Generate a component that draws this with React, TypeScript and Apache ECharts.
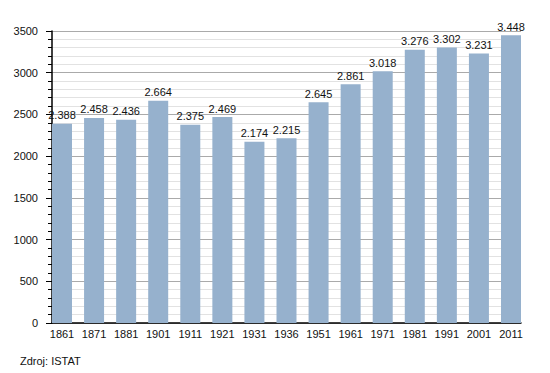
import React, { useEffect, useRef } from "react";
import * as echarts from "echarts";

const categories = ["1861", "1871", "1881", "1901", "1911", "1921", "1931", "1936", "1951", "1961", "1971", "1981", "1991", "2001", "2011"];
const population = [2388, 2458, 2436, 2664, 2375, 2469, 2174, 2215, 2645, 2861, 3018, 3276, 3302, 3231, 3448];
const sourceText = "Zdroj: ISTAT";

const fmt = (v: number) => String(v).replace(/\B(?=(\d{3})+(?!\d))/g, ".");

const FONT = "Liberation Sans, Arial, sans-serif";

export default function App() {
  const ref = useRef<HTMLDivElement>(null);
  useEffect(() => {
    document.body.style.margin = "0";
    const chart = echarts.init(ref.current!, null, { renderer: "svg" });
    chart.setOption({
      animation: false,
      backgroundColor: "#ffffff",
      textStyle: { fontFamily: FONT },
      grid: [
        { left: 52, right: 29, top: 31, bottom: 50 },
        { left: 62, right: 39, top: 31, bottom: 50 },
      ],
      xAxis: [
        {
          type: "value",
          gridIndex: 0,
          min: 0,
          max: 1,
          axisLine: { show: true, onZero: false, lineStyle: { color: "#000", width: 1.5 } },
          axisTick: { show: false },
          axisLabel: { show: false },
          splitLine: { show: false },
        },
        {
          type: "category",
          gridIndex: 1,
          data: categories,
          boundaryGap: false,
          axisLine: { show: false },
          axisTick: { show: false },
          axisLabel: { color: "#111", fontSize: 11, margin: 5, interval: 0 },
        },
      ],
      yAxis: [
        {
          type: "value",
          gridIndex: 0,
          min: 0,
          max: 3500,
          interval: 500,
          axisLine: { show: true, lineStyle: { color: "#000", width: 1.5 } },
          axisTick: { show: true, inside: false, length: 6, lineStyle: { color: "#000" } },
          minorTick: { show: true, splitNumber: 5, length: 4, lineStyle: { color: "#000" } },
          axisLabel: { color: "#111", fontSize: 11, margin: 14, formatter: (v: number) => String(v) },
          splitLine: { show: true, lineStyle: { color: "#aaaaaa", width: 1 } },
          minorSplitLine: { show: true, lineStyle: { color: "#e2e2e2", width: 1 } },
        },
        {
          type: "value",
          gridIndex: 1,
          min: 0,
          max: 3500,
          show: false,
          splitLine: { show: false },
        },
      ],
      series: [
        {
          type: "bar",
          xAxisIndex: 1,
          yAxisIndex: 1,
          data: population,
          barWidth: 20,
          clip: false,
          itemStyle: { color: "#96b1cd" },
          label: {
            show: true,
            position: "top",
            distance: 3,
            color: "#111",
            fontSize: 11,
            formatter: (p: any) => fmt(p.value),
          },
        },
      ],
      graphic: [
        {
          type: "text",
          left: 20,
          top: 355,
          style: { text: sourceText, fill: "#111", fontSize: 11, fontFamily: FONT },
        },
      ],
    });
    return () => chart.dispose();
  }, []);
  return <div ref={ref} style={{ width: 550, height: 373 }} />;
}
